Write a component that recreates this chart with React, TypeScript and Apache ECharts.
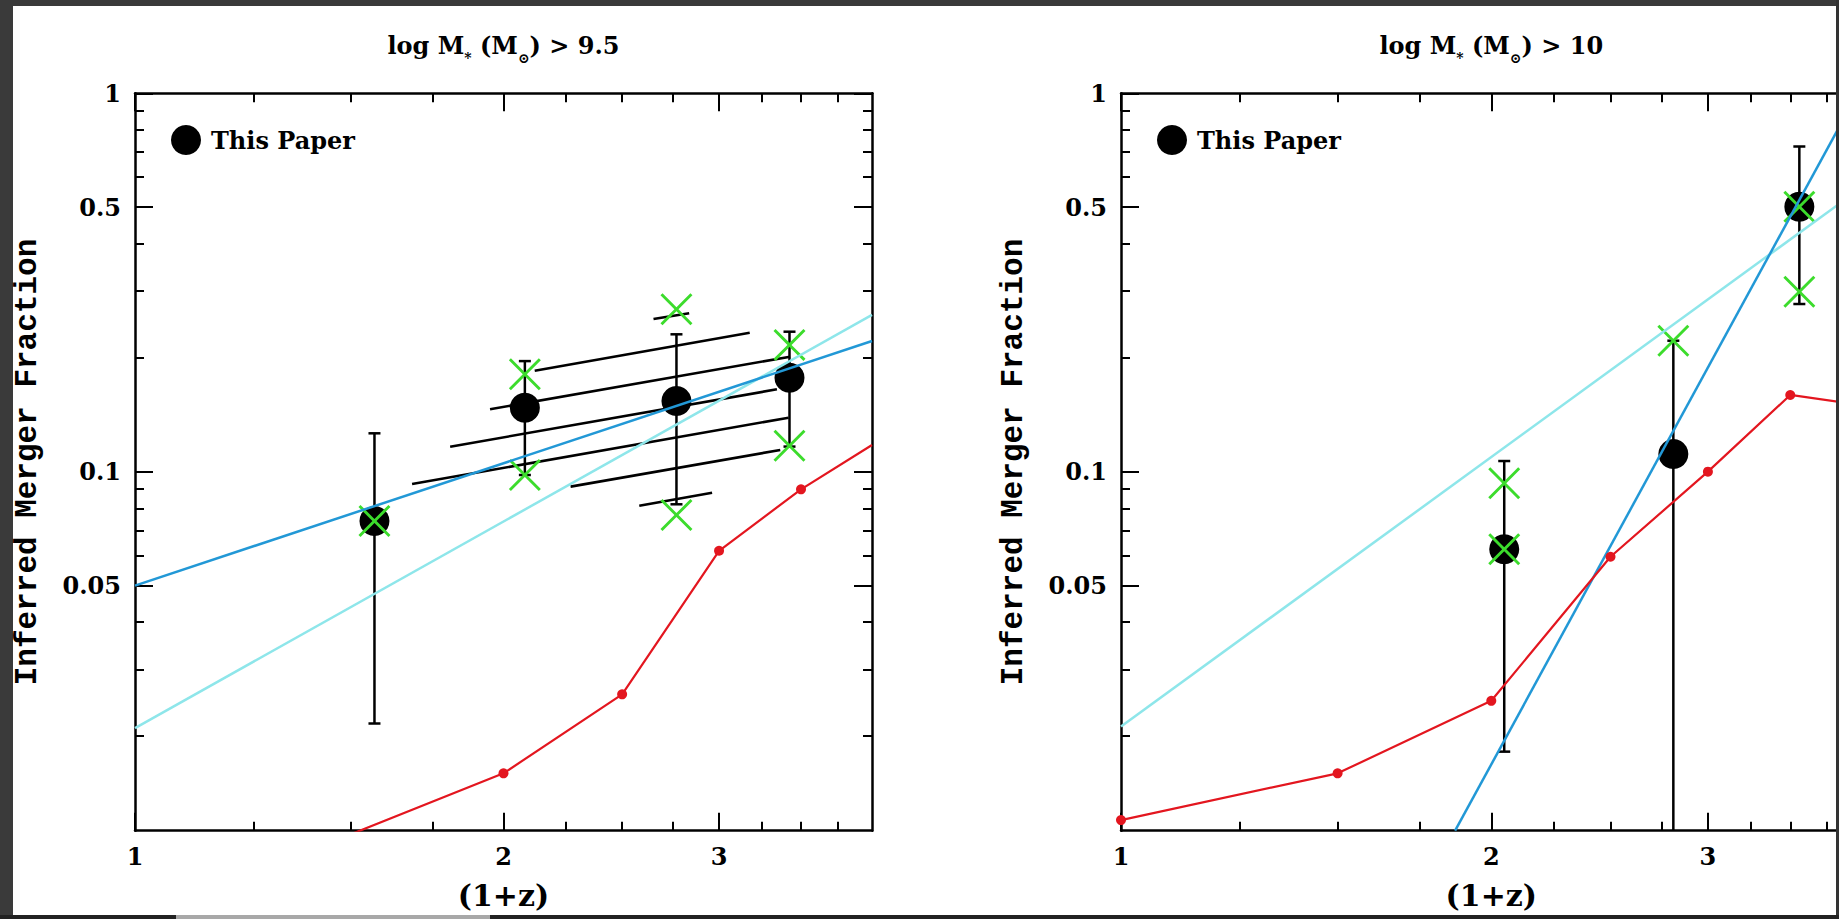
import React, { useEffect, useRef } from 'react';
import * as echarts from 'echarts';

// ---------- axis ranges & ticks (data units) ----------
const X_MIN = 1;
const X_MAX = 4;
const Y_MIN = 0.01125;
const Y_MAX = 1;
const xMajorTicks = [1, 2, 3];
const xMinorTicks = [1.25, 1.5, 1.75, 2.25, 2.5, 2.75, 3.25, 3.5, 3.75];
const yMajorTicks = [1, 0.5, 0.1, 0.05];
const yMinorTicks = [0.9, 0.8, 0.7, 0.6, 0.4, 0.3, 0.2, 0.09, 0.08, 0.07, 0.06, 0.04, 0.03, 0.02];

const panelThresholds = ['9.5', '10'];
const xAxisTitle = '(1+z)';
const yAxisTitle = 'Inferred Merger Fraction';
const legendLabel = 'This Paper';

// ---------- left panel: log M* > 9.5 ----------
const leftPaper = [[1.569, 0.0741], [2.082, 0.1476], [2.769, 0.1538], [3.425, 0.1772]];
const leftErrors = [[1.569, 0.0216, 0.1263], [2.082, 0.098, 0.196], [2.769, 0.082, 0.2307], [3.425, 0.1165, 0.2344]];
const leftCrosses = [[1.569, 0.0741], [2.082, 0.181], [2.082, 0.098], [2.769, 0.2686], [2.769, 0.0768], [3.425, 0.2163], [3.425, 0.1171]];
const leftBlueFit = [[1, 0.05], [4, 0.2215]];
const leftCyanFit = [[1, 0.021], [4, 0.2596]];
const leftModel = [[1.5, 0.011], [2.0, 0.01595], [2.5, 0.0258], [3.0, 0.0618], [3.5, 0.0898], [4.0, 0.1176]];
const leftHatch = [
  [2.121, 0.1849, 3.178, 0.233],
  [1.95, 0.1462, 3.429, 0.2013],
  [1.809, 0.1164, 3.345, 0.1651],
  [1.684, 0.0928, 3.419, 0.1389],
  [2.269, 0.0913, 3.366, 0.1141],
  [2.582, 0.0813, 2.961, 0.088],
  [2.652, 0.2532, 2.836, 0.2623],
];

// ---------- right panel: log M* > 10 ----------
const rightPaper = [[2.049, 0.0624], [2.812, 0.1113], [3.56, 0.5016]];
const rightErrors = [[2.049, 0.0182, 0.1067], [2.812, 0.008, 0.2219], [3.56, 0.2774, 0.7229]];
const rightCrosses = [[2.049, 0.0932], [2.049, 0.0624], [2.812, 0.2219], [3.56, 0.5016], [3.56, 0.299]];
const rightBlueFit = [[1.869, 0.01125], [3.97, 1.0]];
const rightCyanFit = [[1, 0.0212], [4, 0.5636]];
const rightModel = [[1, 0.012], [1.5, 0.01595], [2, 0.0248], [2.5, 0.0596], [3, 0.1], [3.5, 0.1595], [4, 0.15]];

const lg = Math.log10;
const P = (pts: number[][]) => pts.map((p) => p.map(lg));

const SERIF = 'DejaVu Serif';
const BLACK = '#000000';
const GREEN = '#3cdc2c';
const BLUE = '#2298d6';
const CYAN = '#8ee6ea';
const RED = '#e3161f';
const CROSS = 'path://M0,6.4 L6.4,0 L50,43.6 L93.6,0 L100,6.4 L56.4,50 L100,93.6 L93.6,100 L50,56.4 L6.4,100 L0,93.6 L43.6,50 Z';
const TICK_FONT = 24;

const fmt = (v: number) => String(parseFloat(Math.pow(10, v).toPrecision(3)));

const CANVAS_W = 1880;
const CANVAS_H = 919;
const GRIDS = [
  { left: 135, top: 93.3, width: 737, height: 737.4 },
  { left: 1121, top: 93.3, width: 740.6, height: 737.4 },
];

function xAxes(gi: number) {
  const defs = [
    { pos: 'bottom', ticks: xMajorTicks, len: 18, label: true, line: true },
    { pos: 'bottom', ticks: xMinorTicks, len: 9, label: false, line: false },
    { pos: 'top', ticks: xMajorTicks, len: 18, label: false, line: true },
    { pos: 'top', ticks: xMinorTicks, len: 9, label: false, line: false },
  ];
  return defs.map((d, i) => ({
    type: 'value',
    gridIndex: gi,
    position: d.pos,
    min: lg(X_MIN),
    max: lg(X_MAX),
    name: i === 0 ? xAxisTitle : '',
    nameLocation: 'middle',
    nameGap: 50,
    nameTextStyle: { fontFamily: SERIF, fontWeight: 'bold', fontSize: 30, color: BLACK },
    splitLine: { show: false },
    axisLine: { show: d.line, onZero: false, lineStyle: { color: BLACK, width: 2.5 } },
    axisTick: { show: true, inside: true, length: d.len, customValues: d.ticks.map(lg), lineStyle: { color: BLACK, width: 2 } },
    axisLabel: {
      show: d.label,
      customValues: d.ticks.map(lg),
      formatter: fmt,
      margin: 14,
      fontFamily: SERIF,
      fontWeight: 'bold',
      fontSize: TICK_FONT,
      color: BLACK,
    },
  }));
}

function yAxes(gi: number) {
  const defs = [
    { pos: 'left', ticks: yMajorTicks, len: 18, label: true, line: true },
    { pos: 'left', ticks: yMinorTicks, len: 9, label: false, line: false },
    { pos: 'right', ticks: yMajorTicks, len: 18, label: false, line: true },
    { pos: 'right', ticks: yMinorTicks, len: 9, label: false, line: false },
  ];
  return defs.map((d, i) => ({
    type: 'value',
    gridIndex: gi,
    position: d.pos,
    min: lg(Y_MIN),
    max: lg(Y_MAX),
    name: i === 0 ? yAxisTitle : '',
    nameLocation: 'middle',
    nameGap: 92,
    nameRotate: 90,
    nameTextStyle: { fontFamily: 'Liberation Mono', fontWeight: 'bold', fontSize: 31, color: BLACK },
    splitLine: { show: false },
    axisLine: { show: d.line, onZero: false, lineStyle: { color: BLACK, width: 2.5 } },
    axisTick: { show: true, inside: true, length: d.len, customValues: d.ticks.map(lg), lineStyle: { color: BLACK, width: 2 } },
    axisLabel: {
      show: d.label,
      customValues: d.ticks.map(lg),
      formatter: fmt,
      margin: 14,
      fontFamily: SERIF,
      fontWeight: 'bold',
      fontSize: TICK_FONT,
      color: BLACK,
    },
  }));
}

function panelSeries(gi: number, d: any) {
  const ax = { xAxisIndex: gi * 4, yAxisIndex: gi * 4 };
  return [
    {
      type: 'custom',
      name: 'error bars',
      ...ax,
      clip: true,
      silent: true,
      data: d.errors.map((e: number[]) => e.map(lg)),
      renderItem: (params: any, api: any) => {
        const x = api.value(0);
        const lo = api.coord([x, api.value(1)]);
        const hi = api.coord([x, api.value(2)]);
        const c = 6;
        const st = { stroke: BLACK, lineWidth: 2.5 };
        return {
          type: 'group',
          children: [
            { type: 'line', shape: { x1: lo[0], y1: lo[1], x2: hi[0], y2: hi[1] }, style: st },
            { type: 'line', shape: { x1: hi[0] - c, y1: hi[1], x2: hi[0] + c, y2: hi[1] }, style: st },
            { type: 'line', shape: { x1: lo[0] - c, y1: lo[1], x2: lo[0] + c, y2: lo[1] }, style: st },
          ],
        };
      },
    },
    ...(d.hatch
      ? [
          {
            type: 'custom',
            name: 'segments',
            ...ax,
            clip: true,
            silent: true,
            data: d.hatch.map((h: number[]) => h.map(lg)),
            renderItem: (params: any, api: any) => {
              const a = api.coord([api.value(0), api.value(1)]);
              const b = api.coord([api.value(2), api.value(3)]);
              return {
                type: 'line',
                shape: { x1: a[0], y1: a[1], x2: b[0], y2: b[1] },
                style: { stroke: BLACK, lineWidth: 2.6 },
              };
            },
          },
        ]
      : []),
    {
      type: 'scatter',
      name: legendLabel,
      ...ax,
      symbol: 'circle',
      symbolSize: 30,
      itemStyle: { color: BLACK, opacity: 1 },
      data: P(d.paper),
    },
    {
      type: 'line',
      name: 'cyan fit',
      ...ax,
      showSymbol: false,
      symbol: 'none',
      clip: true,
      lineStyle: { color: CYAN, width: 2.5 },
      data: P(d.cyan),
    },
    {
      type: 'line',
      name: 'blue fit',
      ...ax,
      showSymbol: false,
      symbol: 'none',
      clip: true,
      lineStyle: { color: BLUE, width: 2.5 },
      data: P(d.blue),
    },
    {
      type: 'line',
      name: 'model',
      ...ax,
      symbol: 'circle',
      symbolSize: 10,
      clip: true,
      itemStyle: { color: RED, opacity: 1 },
      lineStyle: { color: RED, width: 2.2 },
      data: P(d.model).map((p) => (p[0] >= lg(X_MAX) - 1e-9 ? { value: p, symbol: 'none' } : p)),
    },
    {
      type: 'scatter',
      name: 'crosses',
      ...ax,
      symbol: CROSS,
      symbolSize: 32,
      itemStyle: { color: GREEN, opacity: 1 },
      data: P(d.crosses),
    },
  ];
}

export default function App() {
  const ref = useRef<HTMLDivElement>(null);
  useEffect(() => {
    document.body.style.margin = '0';
    document.body.style.overflow = 'hidden';
    document.documentElement.style.overflow = 'hidden';
    const chart = echarts.init(ref.current!, undefined, { renderer: 'svg' });
    const titleRich = {
      m: { fontFamily: SERIF, fontWeight: 'bold', fontSize: 24, color: BLACK, lineHeight: 40 },
      s: { fontFamily: SERIF, fontWeight: 'bold', fontSize: 14, color: BLACK, lineHeight: 14, verticalAlign: 'bottom' },
    };
    const centers = GRIDS.map((g) => g.left + g.width / 2);
    chart.setOption({
      animation: false,
      backgroundColor: '#3a3a3a',
      title: panelThresholds.map((t, i) => ({
        text: `{m|log M}{s|*}{m| (M}{s|⊙}{m|) > ${t}}`,
        left: centers[i],
        top: 25,
        textAlign: 'center',
        padding: 0,
        textStyle: { rich: titleRich, fontFamily: SERIF, fontWeight: 'bold', fontSize: 24, color: BLACK },
      })),
      legend: GRIDS.map((g) => ({
        data: [legendLabel],
        left: g.left + 36,
        top: 125,
        padding: 0,
        itemWidth: 30,
        itemHeight: 30,
        icon: 'circle',
        selectedMode: false,
        textStyle: { fontFamily: SERIF, fontWeight: 'bold', fontSize: 24, color: BLACK, padding: [0, 0, 0, 5] },
      })),
      grid: GRIDS.map((g) => ({ ...g, containLabel: false })),
      xAxis: [...xAxes(0), ...xAxes(1)],
      yAxis: [...yAxes(0), ...yAxes(1)],
      graphic: [
        { type: 'rect', z: -10, shape: { x: 13, y: 6, width: 1823, height: 909 }, style: { fill: '#ffffff' } },
        { type: 'rect', z: 100, shape: { x: 1836, y: 0, width: CANVAS_W - 1836, height: CANVAS_H }, style: { fill: '#333333' } },
        { type: 'rect', z: 100, shape: { x: 0, y: 915, width: CANVAS_W, height: 4 }, style: { fill: '#222222' } },
        { type: 'rect', z: 101, shape: { x: 176, y: 915, width: 314, height: 4 }, style: { fill: '#a8a8a8' } },
      ],
      series: [
        ...panelSeries(0, {
          errors: leftErrors,
          hatch: leftHatch,
          paper: leftPaper,
          cyan: leftCyanFit,
          blue: leftBlueFit,
          model: leftModel,
          crosses: leftCrosses,
        }),
        ...panelSeries(1, {
          errors: rightErrors,
          paper: rightPaper,
          cyan: rightCyanFit,
          blue: rightBlueFit,
          model: rightModel,
          crosses: rightCrosses,
        }),
      ],
    });
    return () => chart.dispose();
  }, []);
  return <div ref={ref} style={{ width: CANVAS_W, height: CANVAS_H }} />;
}
